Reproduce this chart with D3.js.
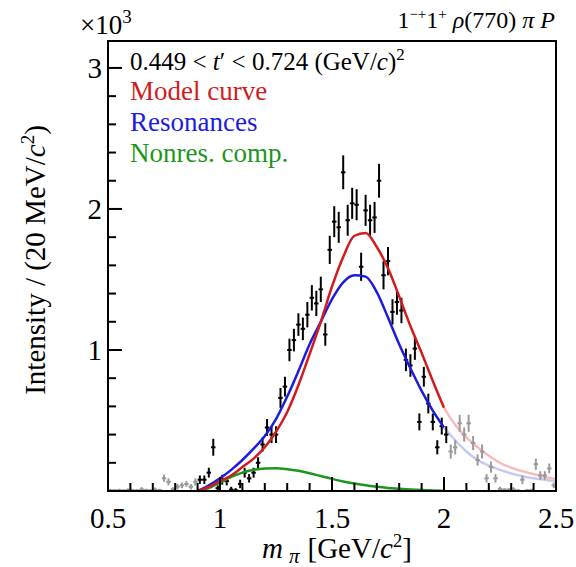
<!DOCTYPE html>
<html>
<head>
<meta charset="utf-8">
<script src="https://cdn.jsdelivr.net/npm/d3@7"></script>
<style>
  body { margin: 0; background: #fff; }
  svg text { font-family: "Liberation Serif", "DejaVu Serif", serif; }
</style>
</head>
<body>
<svg id="chart" width="576" height="567"></svg>
<script>
// data bins, 20 MeV wide
var massBins = [0.51,0.53,0.55,0.57,0.59,0.61,0.63,0.65,0.67,0.69,0.71,0.73,0.75,0.77,0.79,0.81,0.83,0.85,0.87,0.89,
  0.91,0.93,0.95,0.97,0.99,1.01,1.03,1.05,1.07,1.09,1.11,1.13,1.15,1.17,1.19,1.21,1.23,1.25,1.27,1.29,
  1.31,1.33,1.35,1.37,1.39,1.41,1.43,1.45,1.47,1.49,1.51,1.53,1.55,1.57,1.59,1.61,1.63,1.65,1.67,1.69,
  1.71,1.73,1.75,1.77,1.79,1.81,1.83,1.85,1.87,1.89,1.91,1.93,1.95,1.97,1.99,2.01,2.03,2.05,2.07,2.09,
  2.11,2.13,2.15,2.17,2.19,2.21,2.23,2.25,2.27,2.29,2.31,2.33,2.35,2.37,2.39,2.41,2.43,2.45,2.47,2.49];
// intensity in units of 10^3
var intensity = [0.005,0.004,0.006,0.003,0.008,0.005,0.004,0.012,0.006,0.003,0.010,0.006,0.090,0.065,0.012,0.030,0.040,0.050,0.030,0.065,
  0.080,0.080,0.130,0.310,0.020,0.080,0.070,0.010,0.005,0.050,0.130,0.090,0.130,0.200,0.330,0.450,0.400,0.400,0.660,0.740,
  1.000,1.070,1.180,1.150,1.250,1.370,1.330,1.430,1.110,1.710,1.910,1.870,2.260,1.920,2.040,2.030,1.590,1.990,1.920,1.940,
  2.200,1.530,1.630,1.270,1.340,1.280,0.930,0.890,1.010,0.490,0.810,0.620,0.490,0.310,0.460,0.400,0.280,0.310,0.480,0.400,
  0.480,0.340,0.220,0.280,0.090,0.170,0.090,0.015,0.010,0.010,0.012,0.004,0.080,0.005,0.006,0.190,0.110,0.110,0.160,0.040];
var errors = [0.01,0.01,0.01,0.01,0.01,0.01,0.01,0.015,0.01,0.01,0.015,0.01,0.025,0.025,0.015,0.02,0.02,0.02,0.02,0.025,
  0.03,0.03,0.035,0.06,0.02,0.035,0.03,0.02,0.015,0.03,0.035,0.03,0.035,0.04,0.05,0.06,0.06,0.06,0.07,0.07,
  0.08,0.08,0.08,0.08,0.09,0.09,0.09,0.09,0.08,0.10,0.11,0.11,0.12,0.11,0.11,0.11,0.10,0.11,0.11,0.11,
  0.12,0.10,0.10,0.09,0.09,0.09,0.08,0.08,0.08,0.06,0.07,0.07,0.06,0.05,0.06,0.06,0.05,0.05,0.06,0.05,
  0.06,0.05,0.04,0.05,0.03,0.04,0.03,0.015,0.01,0.01,0.015,0.01,0.03,0.01,0.01,0.04,0.03,0.03,0.035,0.02];

var fitRange = [0.9, 2.02];

// fitted curves
var curveMass = [0.9,0.95,1.0,1.05,1.1,1.15,1.2,1.25,1.3,1.35,1.4,1.45,1.5,1.55,1.6,1.65,1.7,1.75,1.8,1.85,1.9,1.95,2.0,
  2.05,2.1,2.15,2.2,2.25,2.3,2.35,2.4,2.45,2.5];
var modelCurve = [0,0.03,0.07,0.11,0.17,0.23,0.31,0.42,0.56,0.75,0.97,1.2,1.45,1.66,1.81,1.83,1.73,1.58,1.38,1.17,0.98,0.78,0.59,
  0.47,0.38,0.31,0.25,0.2,0.165,0.14,0.12,0.1,0.085];
var resonanceCurve = [0,0.04,0.09,0.15,0.22,0.3,0.39,0.51,0.67,0.85,1.04,1.2,1.36,1.48,1.53,1.52,1.41,1.23,1.04,0.87,0.71,0.57,0.45,
  0.36,0.28,0.22,0.18,0.15,0.125,0.105,0.09,0.08,0.07];
var nonresCurve = [0,0.02,0.06,0.1,0.13,0.15,0.16,0.162,0.155,0.143,0.126,0.106,0.086,0.068,0.053,0.04,0.03,0.022,0.016,0.011,0.007,0.004,0.002];

var xMajor = [0.5, 1, 1.5, 2, 2.5];
var yMajor = [1, 2, 3];

var svg = d3.select("#chart");
var padL = 108, padR = 556, padT = 41, padB = 491;

var x = d3.scaleLinear().domain([0.5, 2.5]).range([padL, padR]);
var y = d3.scaleLinear().domain([0, 3.191]).range([padB, padT]);

var cRed = "#d01c1c", cBlue = "#1c1ce0", cGreen = "#1c961c";

// curves
var line = d3.line().x(d => x(d[0])).y(d => y(d[1])).curve(d3.curveMonotoneX);
function pairs(ys, lo, hi) {
  var out = [];
  for (var i = 0; i < ys.length; i++) {
    if (curveMass[i] >= lo - 1e-9 && curveMass[i] <= hi + 1e-9) out.push([curveMass[i], ys[i]]);
  }
  return out;
}
var plot = svg.append("g");
plot.append("path").attr("d", line(pairs(modelCurve, 2.0, 2.5))).attr("fill", "none").attr("stroke", "#f6bcbc").attr("stroke-width", 2.5);
plot.append("path").attr("d", line(pairs(resonanceCurve, 2.0, 2.5))).attr("fill", "none").attr("stroke", "#c8c8f2").attr("stroke-width", 2.5);

// data points
massBins.forEach(function(m, i) {
  var inFit = m > fitRange[0] && m < fitRange[1];
  var col = inFit ? "#000" : "#9a9a9a";
  var g = plot.append("g");
  g.append("line").attr("x1", x(m)).attr("x2", x(m))
    .attr("y1", y(Math.max(0, intensity[i] - errors[i]))).attr("y2", y(intensity[i] + errors[i]))
    .attr("stroke", col).attr("stroke-width", 2);
  g.append("line").attr("x1", x(m - 0.01)).attr("x2", x(m + 0.01))
    .attr("y1", y(intensity[i])).attr("y2", y(intensity[i]))
    .attr("stroke", col).attr("stroke-width", 2);
});

plot.append("path").attr("d", line(pairs(nonresCurve, 0.9, 2.0))).attr("fill", "none").attr("stroke", cGreen).attr("stroke-width", 2.5);
plot.append("path").attr("d", line(pairs(resonanceCurve, 0.9, 2.0))).attr("fill", "none").attr("stroke", cBlue).attr("stroke-width", 2.5);
plot.append("path").attr("d", line(pairs(modelCurve, 0.9, 2.0))).attr("fill", "none").attr("stroke", cRed).attr("stroke-width", 2.5);

// frame
svg.append("rect").attr("x", padL).attr("y", padT).attr("width", padR - padL).attr("height", padB - padT)
  .attr("fill", "none").attr("stroke", "#000").attr("stroke-width", 2);

// ticks, pointing into the frame
var tickG = svg.append("g");
tickG.selectAll("line.xt").data(d3.range(0, 21)).enter().append("line").attr("class", "xt")
  .attr("x1", d => x(0.5 + d * 0.1)).attr("x2", d => x(0.5 + d * 0.1))
  .attr("y1", padB).attr("y2", d => padB - (d % 5 == 0 ? 14 : 8))
  .attr("stroke", "#000").attr("stroke-width", 2);
tickG.selectAll("line.yt").data(d3.range(1, 16)).enter().append("line").attr("class", "yt")
  .attr("y1", d => y(d * 0.2)).attr("y2", d => y(d * 0.2))
  .attr("x1", padL).attr("x2", d => padL + (d % 5 == 0 ? 14 : 8))
  .attr("stroke", "#000").attr("stroke-width", 2);

svg.selectAll("text.xl").data(xMajor).enter().append("text").attr("class", "xl")
  .attr("x", d => x(d)).attr("y", 528)
  .attr("text-anchor", "middle").attr("font-size", 29)
  .text(d => d);
svg.selectAll("text.yl").data(yMajor).enter().append("text").attr("class", "yl")
  .attr("x", 102).attr("y", d => y(d) + 10)
  .attr("text-anchor", "end").attr("font-size", 29)
  .text(d => d);

// exponent
var ex = svg.append("text").attr("x", 80).attr("y", 34).attr("font-size", 27);
ex.append("tspan").text("\u00d710");
ex.append("tspan").attr("dy", -11).attr("font-size", 19).text("3");

// title
var ti = svg.append("text").attr("x", 555).attr("y", 28).attr("font-size", 24).attr("text-anchor", "end");
ti.append("tspan").text("1");
ti.append("tspan").attr("dy", -9).attr("font-size", 15).text("\u2212+");
ti.append("tspan").attr("dy", 9).text("1");
ti.append("tspan").attr("dy", -9).attr("font-size", 15).text("+");
ti.append("tspan").attr("dy", 9).text(" ");
ti.append("tspan").attr("font-style", "italic").text("\u03c1");
ti.append("tspan").text("(770) ");
ti.append("tspan").attr("font-style", "italic").text("\u03c0 P");

// legend
var lg = svg.append("text").attr("x", 130).attr("y", 70).attr("font-size", 25);
lg.append("tspan").text("0.449 < ");
lg.append("tspan").attr("font-style", "italic").text("t");
lg.append("tspan").text("\u2032 < 0.724 (GeV/");
lg.append("tspan").attr("font-style", "italic").text("c");
lg.append("tspan").text(")");
lg.append("tspan").attr("dy", -10).attr("font-size", 17).text("2");

var legendItems = ["Model curve", "Resonances", "Nonres. comp."];
var legendColors = [cRed, cBlue, cGreen];
svg.selectAll("text.lg").data(legendItems).enter().append("text").attr("class", "lg")
  .attr("x", 130).attr("y", (d, i) => 100 + i * 31)
  .attr("font-size", 27).attr("fill", (d, i) => legendColors[i])
  .text(d => d);

// axis titles
var yt = svg.append("text").attr("transform", "translate(45,260) rotate(-90)")
  .attr("text-anchor", "middle").attr("font-size", 29);
yt.append("tspan").text("Intensity / (20 MeV/");
yt.append("tspan").attr("font-style", "italic").text("c");
yt.append("tspan").attr("dy", -11).attr("font-size", 19).text("2");
yt.append("tspan").attr("dy", 11).text(")");

var xt = svg.append("text").attr("x", 262).attr("y", 558).attr("font-size", 29);
xt.append("tspan").attr("font-style", "italic").text("m");
xt.append("tspan").attr("dx", 6).attr("dy", 5).attr("font-size", 21).attr("font-style", "italic").text("\u03c0");
xt.append("tspan").attr("dx", 8).attr("dy", -5).text("[GeV/");
xt.append("tspan").attr("font-style", "italic").text("c");
xt.append("tspan").attr("dy", -11).attr("font-size", 19).text("2");
xt.append("tspan").attr("dy", 11).text("]");
</script>
</body>
</html>
